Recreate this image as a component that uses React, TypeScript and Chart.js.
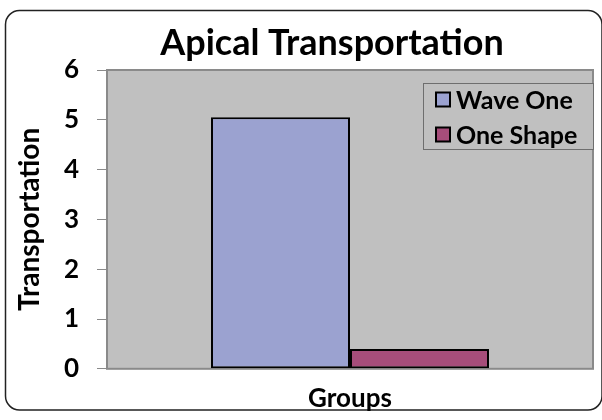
import React, { useEffect, useRef } from "react";
import { Chart, registerables } from "chart.js";

Chart.register(...registerables);

const categories = [""];
const seriesNames = ["Wave One", "One Shape"];
const waveOne = [5.05];
const oneShape = [0.4];
const yTicks = [0, 1, 2, 3, 4, 5, 6];
const titleText = "Apical Transportation";
const xTitle = "Groups";
const yTitle = "Transportation";

const colors = ["#9ba2d0", "#a64d7a"];
const FONT = "Lato, 'Open Sans', sans-serif";

const decorPlugin = {
  id: "decor",
  beforeDraw(chart: any) {
    const { ctx, chartArea } = chart;
    ctx.save();
    ctx.fillStyle = "#ffffff";
    ctx.fillRect(0, 0, chart.width, chart.height);
    // outer rounded border
    ctx.beginPath();
    const x = 5.5, y = 10.5, w = 596.5, h = 399.5, r = 14;
    ctx.moveTo(x + r, y);
    ctx.arcTo(x + w, y, x + w, y + h, r);
    ctx.arcTo(x + w, y + h, x, y + h, r);
    ctx.arcTo(x, y + h, x, y, r);
    ctx.arcTo(x, y, x + w, y, r);
    ctx.closePath();
    ctx.strokeStyle = "#222222";
    ctx.lineWidth = 1.5;
    ctx.stroke();
    // plot background
    ctx.fillStyle = "#c0c0c0";
    ctx.fillRect(chartArea.left, chartArea.top, chartArea.right - chartArea.left, chartArea.bottom - chartArea.top);
    ctx.strokeStyle = "#8a8a8a";
    ctx.lineWidth = 2;
    ctx.strokeRect(chartArea.left, chartArea.top, chartArea.right - chartArea.left, chartArea.bottom - chartArea.top);
    // title
    ctx.fillStyle = "#000000";
    ctx.font = `bold 36px ${FONT}`;
    ctx.textAlign = "center";
    ctx.textBaseline = "alphabetic";
    ctx.fillText(titleText, 332, 55);
    ctx.restore();
  },
  afterDraw(chart: any) {
    const { ctx } = chart;
    ctx.save();
    const bx = 423.5, by = 83.5, bw = 170, bh = 66;
    ctx.fillStyle = "#c0c0c0";
    ctx.fillRect(bx, by, bw, bh);
    ctx.strokeStyle = "#6e6e6e";
    ctx.lineWidth = 1;
    ctx.strokeRect(bx, by, bw, bh);
    ctx.font = `bold 25px ${FONT}`;
    ctx.textAlign = "left";
    ctx.textBaseline = "middle";
    chart.data.datasets.forEach((ds: any, i: number) => {
      const cy = 99.5 + i * 35;
      ctx.fillStyle = ds.backgroundColor;
      ctx.fillRect(436, cy - 7, 14, 14);
      ctx.strokeStyle = "#000000";
      ctx.lineWidth = 2;
      ctx.strokeRect(436, cy - 7, 14, 14);
      ctx.fillStyle = "#000000";
      ctx.fillText(ds.label, 456, cy + 1);
    });
    ctx.restore();
  },
};

export default function App() {
  const ref = useRef<HTMLCanvasElement | null>(null);
  useEffect(() => {
    if (!ref.current) return;
    const chart = new Chart(ref.current, {
      type: "bar",
      data: {
        labels: categories,
        datasets: [
          {
            label: seriesNames[0],
            data: waveOne,
            backgroundColor: colors[0],
            borderColor: "#000000",
            borderWidth: 2,
            borderSkipped: false,
          },
          {
            label: seriesNames[1],
            data: oneShape,
            backgroundColor: colors[1],
            borderColor: "#000000",
            borderWidth: 2,
            borderSkipped: false,
          },
        ],
      },
      options: {
        responsive: false,
        animation: false,
        layout: { padding: { left: 8, right: 9, top: 70, bottom: 6 } },
        datasets: { bar: { categoryPercentage: 0.572, barPercentage: 1 } },
        plugins: {
          legend: { display: false },
          title: { display: false },
          tooltip: { enabled: false },
        },
        scales: {
          x: {
            grid: { display: false, drawTicks: false },
            border: { color: "#8a8a8a" },
            ticks: { display: false },
            title: {
              display: true,
              text: xTitle,
              color: "#000000",
              font: { family: FONT, size: 26, weight: "bold" },
              padding: { top: 14, bottom: 0 },
            },
          },
          y: {
            min: 0,
            max: 6,
            afterBuildTicks: (scale: any) => {
              scale.ticks = yTicks.map((v) => ({ value: v }));
            },
            afterFit: (scale: any) => {
              scale.width = 99;
            },
            grid: { drawOnChartArea: false, drawTicks: true, tickLength: 10, color: "#8a8a8a" },
            border: { color: "#8a8a8a" },
            ticks: {
              color: "#000000",
              font: { family: FONT, size: 26, weight: "bold" },
              padding: 18,
            },
            title: {
              display: true,
              text: yTitle,
              color: "#000000",
              font: { family: FONT, size: 28, weight: "bold" },
              padding: { top: 5, bottom: 0 },
            },
          },
        },
      },
      plugins: [decorPlugin],
    });
    return () => chart.destroy();
  }, []);
  return (
    <div style={{ position: "absolute", left: 0, top: 0, width: 602, height: 420 }}>
      <canvas ref={ref} width={602} height={420} />
    </div>
  );
}
